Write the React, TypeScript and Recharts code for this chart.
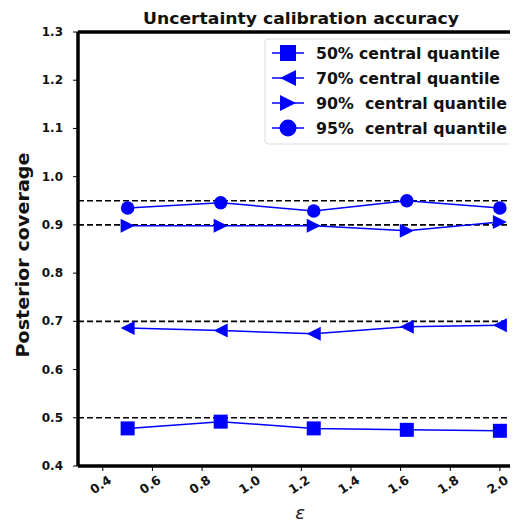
import { Line, LineChart, ReferenceLine, XAxis, YAxis } from "recharts";

const epsilons = [0.5, 0.875, 1.25, 1.625, 2.0];
const cov50 = [0.478, 0.492, 0.478, 0.475, 0.473];
const cov70 = [0.686, 0.681, 0.674, 0.689, 0.692];
const cov90 = [0.898, 0.898, 0.898, 0.888, 0.906];
const cov95 = [0.935, 0.946, 0.929, 0.95, 0.935];

const xTicks = [0.4, 0.6, 0.8, 1.0, 1.2, 1.4, 1.6, 1.8, 2.0];
const yTicks = [0.4, 0.5, 0.6, 0.7, 0.8, 0.9, 1.0, 1.1, 1.2, 1.3];
const targetLevels = [0.5, 0.7, 0.9, 0.95];

const seriesInfo = [
  { key: "q50", label: "50% central quantile", shape: "square", textLen: 184 },
  { key: "q70", label: "70% central quantile", shape: "left", textLen: 184 },
  { key: "q90", label: "90%  central quantile", shape: "right", textLen: 191 },
  { key: "q95", label: "95%  central quantile", shape: "circle", textLen: 191 },
];

const data = epsilons.map((eps, i) => ({
  eps,
  q50: cov50[i],
  q70: cov70[i],
  q90: cov90[i],
  q95: cov95[i],
}));

const BLUE = "#0000ff";
const FONT = "'DejaVu Sans', sans-serif";

function Marker({ shape, cx, cy, s }: { shape: string; cx: number; cy: number; s: number }) {
  if (shape === "square") {
    return <rect x={cx - s / 2} y={cy - s / 2} width={s} height={s} fill={BLUE} />;
  }
  if (shape === "circle") {
    return <circle cx={cx} cy={cy} r={s / 2} fill={BLUE} />;
  }
  const h = s / 2;
  const pts =
    shape === "left"
      ? `${cx - h},${cy} ${cx + h},${cy - h} ${cx + h},${cy + h}`
      : `${cx + h},${cy} ${cx - h},${cy - h} ${cx - h},${cy + h}`;
  return <polygon points={pts} fill={BLUE} />;
}

function makeDot(shape: string) {
  return (props: any) => {
    const { cx, cy, index } = props;
    return (
      <g key={`${shape}-${index}`}>
        <Marker shape={shape} cx={cx} cy={cy} s={shape === "circle" ? 13.5 : 14} />
      </g>
    );
  };
}

function YTick(props: any) {
  const { y, payload } = props;
  return (
    <text x={55} y={y} dy={4} textAnchor="end" fontFamily={FONT} fontWeight="bold" fontSize={12} fill="#111">
      {Number(payload.value).toFixed(1)}
    </text>
  );
}

function XTick(props: any) {
  const { x, payload } = props;
  const cx = x - 2;
  const cy = 477;
  return (
    <g transform={`translate(${cx}, ${cy}) rotate(-33)`}>
      <text x={0} y={4} textAnchor="middle" fontFamily={FONT} fontWeight="bold" fontSize={12.5} fill="#111">
        {Number(payload.value).toFixed(1)}
      </text>
    </g>
  );
}

function LegendBox() {
  return (
    <g transform="translate(256, 30)">
      <rect x={1} y={1} width={251} height={105} rx={3} fill="#fff" fillOpacity={0.8} stroke="#dddddd" strokeWidth={1} />
      {seriesInfo.map((s, i) => {
        const cy = 15 + i * 25;
        return (
          <g key={s.key}>
            <line x1={8} x2={40} y1={cy} y2={cy} stroke={BLUE} strokeWidth={1.5} />
            <Marker shape={s.shape} cx={24} cy={cy} s={s.shape === "circle" ? 17 : 16} />
            <text
              x={52}
              y={cy + 5.5}
              fontFamily={FONT}
              fontWeight="bold"
              fontSize={15}
              fill="#111"
              textLength={s.textLen}
              lengthAdjust="spacingAndGlyphs"
              style={{ whiteSpace: "pre" }}
            >
              {s.label}
            </text>
          </g>
        );
      })}
    </g>
  );
}

export default function App() {
  return (
    <div style={{ position: "relative", width: 510, height: 517 }}>
      <LineChart width={510} height={517} data={data} margin={{ top: 24, right: 0, bottom: 0, left: 0 }}>
        <XAxis
          dataKey="eps"
          type="number"
          domain={[0.3, 2.073]}
          ticks={xTicks}
          allowDataOverflow
          height={59}
          axisLine={{ stroke: "#000", strokeWidth: 3.5 }}
          tickLine={{ stroke: "#000", strokeWidth: 1 }}
          tickSize={5}
          tick={<XTick />}
          interval={0}
        />
        <YAxis
          type="number"
          domain={[0.4, 1.3]}
          ticks={yTicks}
          width={70}
          axisLine={{ stroke: "#000", strokeWidth: 3.5 }}
          tickLine={{ stroke: "#000", strokeWidth: 1 }}
          tickSize={5}
          tick={<YTick />}
          interval={0}
        />
        <ReferenceLine y={1.3} stroke="#000" strokeWidth={3.5} />
        {targetLevels.map((lvl) => (
          <ReferenceLine key={lvl} y={lvl} stroke="#000" strokeWidth={1.6} strokeDasharray="6 3" />
        ))}
        {seriesInfo.map((s) => (
          <Line
            key={s.key}
            dataKey={s.key}
            type="linear"
            stroke={BLUE}
            strokeWidth={1.5}
            dot={makeDot(s.shape)}
            activeDot={false}
            isAnimationActive={false}
          />
        ))}
      </LineChart>
      <svg width={510} height={517} style={{ position: "absolute", left: 0, top: 0, pointerEvents: "none" }}>
        <LegendBox />
        <text
          x={293}
          y={16}
          textAnchor="middle"
          fontFamily={FONT}
          fontWeight="bold"
          fontSize={15}
          fill="#111"
          textLength={316}
          lengthAdjust="spacingAndGlyphs"
        >
          Uncertainty calibration accuracy
        </text>
        <text
          transform="translate(21, 247) rotate(-90)"
          textAnchor="middle"
          fontFamily={FONT}
          fontWeight="bold"
          fontSize={18}
          fill="#111"
          textLength={205}
          lengthAdjust="spacingAndGlyphs"
        >
          Posterior coverage
        </text>
        <text x={292} y={511} textAnchor="middle" fontFamily={FONT} fontStyle="italic" fontSize={18} fill="#222">
          ε
        </text>
      </svg>
    </div>
  );
}
